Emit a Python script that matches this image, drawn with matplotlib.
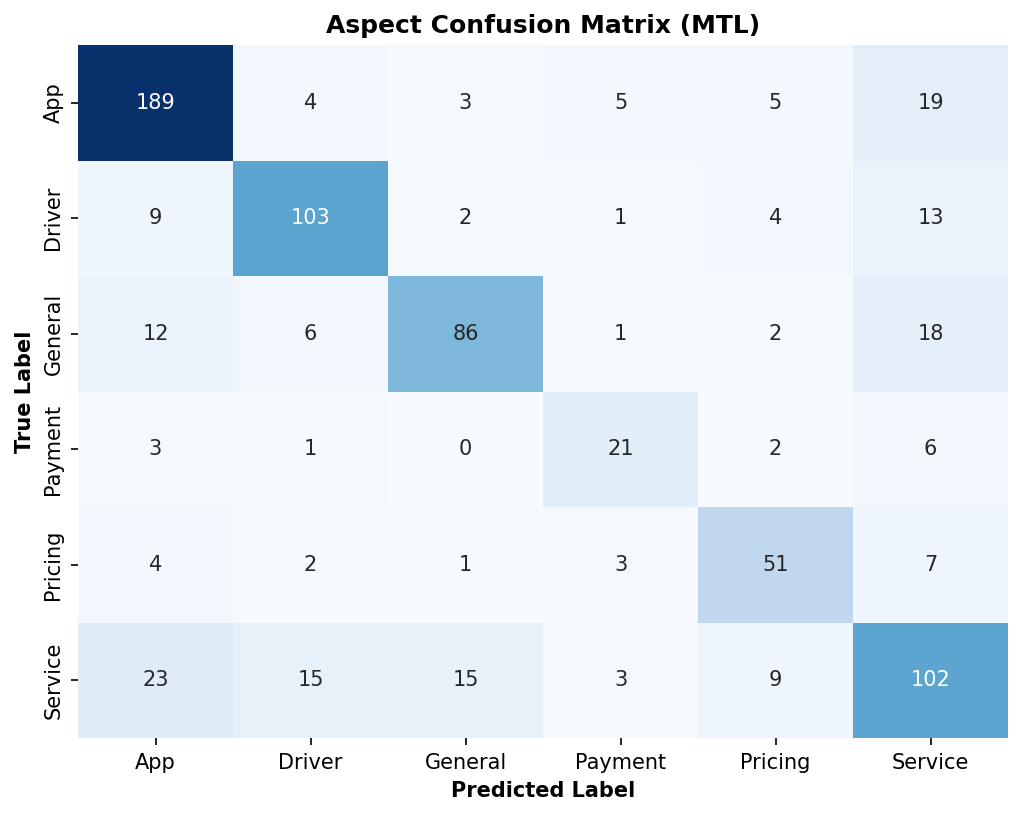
import matplotlib
matplotlib.use("Agg")
import matplotlib.pyplot as plt
import seaborn as sns
import numpy as np

labels = ["App", "Driver", "General", "Payment", "Pricing", "Service"]
row_app = [189, 4, 3, 5, 5, 19]
row_driver = [9, 103, 2, 1, 4, 13]
row_general = [12, 6, 86, 1, 2, 18]
row_payment = [3, 1, 0, 21, 2, 6]
row_pricing = [4, 2, 1, 3, 51, 7]
row_service = [23, 15, 15, 3, 9, 102]
cm = np.array([row_app, row_driver, row_general, row_payment, row_pricing, row_service])

W, H = 1022, 817
fig = plt.figure(figsize=(W/150, H/150), dpi=150)
ax = fig.add_axes([78/W, 1-738/H, (1008-78)/W, (738-45)/H])
sns.heatmap(cm, annot=True, fmt="d", cmap="Blues", cbar=False, ax=ax,
            xticklabels=labels, yticklabels=labels)
ax.set_title("Aspect Confusion Matrix (MTL)", fontweight="bold", fontsize=12)
ax.set_xlabel("Predicted Label", fontweight="bold")
ax.set_ylabel("True Label", fontweight="bold")
fig.savefig("out.png", dpi=150)
